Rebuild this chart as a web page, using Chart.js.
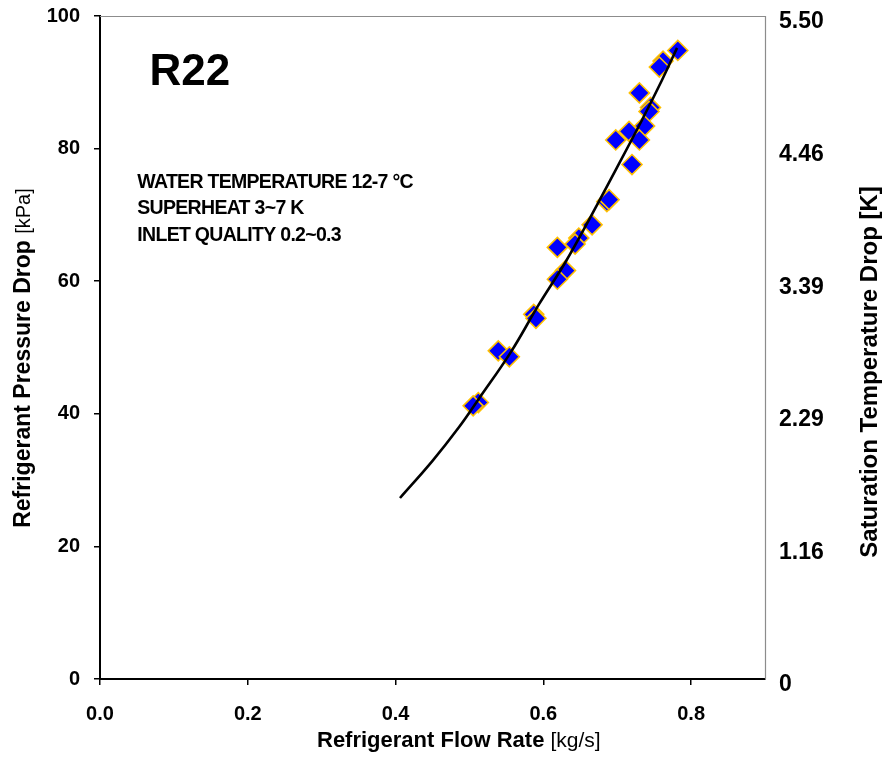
<!DOCTYPE html>
<html><head><meta charset="utf-8">
<script src="https://cdn.jsdelivr.net/npm/chart.js@4/dist/chart.umd.min.js"></script>
<style>html,body{margin:0;padding:0;background:#fff}#wrap{width:885px;height:758px}</style>
</head><body><div id="wrap"><canvas id="c" width="885" height="758"></canvas></div>
<script>
// Measured data (flow rate kg/s, pressure drop kPa)
const flowRate     = [0.782,0.762,0.757,0.730,0.745,0.743,0.737,0.716,0.698,0.730,0.720,0.686,0.689,0.666,0.648,0.643,0.619,0.630,0.619,0.587,0.590,0.539,0.554,0.512,0.505];
const pressureDrop = [94.8, 93.2, 92.3, 88.4, 86.2, 85.6, 83.4, 82.6, 81.3, 81.3, 77.6, 72.0, 72.3, 68.5, 66.5, 65.6, 65.1, 61.6, 60.3, 55.0, 54.4, 49.5, 48.6, 41.7, 41.2];
// Fitted curve
const fitFlow = [0.406,0.450,0.486,0.513,0.556,0.594,0.630,0.661,0.698,0.733,0.760,0.781];
const fitDrop = [27.3, 32.9, 38.0, 42.3, 49.3, 56.5, 62.9, 69.1, 76.8, 84.2, 90.2, 95.2];
// Ticks
const xTicks = [0,0.2,0.4,0.6,0.8];
const yTicks = [0,20,40,60,80,100];
const satLabels = ['0','1.16','2.29','3.39','4.46','5.50'];
// Texts
const xTitle = [['Refrigerant Flow Rate ','bold 22px "Liberation Sans", Arial'],['[kg/s]','21px "Liberation Sans", Arial']];
const yTitle = [['Refrigerant Pressure Drop ','bold 23px "Liberation Sans", Arial'],['[kPa]','20px "Liberation Sans", Arial']];
const y2Title = [['Saturation Temperature Drop [K]','bold 24px "Liberation Sans", Arial']];
const refrigerant = 'R22';
const notes = ['WATER TEMPERATURE 12-7 \u00B0C','SUPERHEAT 3~7 K','INLET QUALITY 0.2~0.3'];

const F = '"Liberation Sans", Arial, sans-serif';

function drawMixed(ctx, parts, x, y, rot, align){
  ctx.save();
  ctx.translate(x, y);
  ctx.rotate(rot);
  let total = 0;
  parts.forEach(p=>{ctx.font=p[1]; total += ctx.measureText(p[0]).width;});
  let cx = align==='left' ? 0 : -total/2;
  ctx.textBaseline='middle'; ctx.textAlign='left'; ctx.fillStyle='#000';
  parts.forEach(p=>{ctx.font=p[1]; ctx.fillText(p[0], cx, 0); cx += ctx.measureText(p[0]).width;});
  ctx.restore();
}

function noPad(s){ s.paddingTop=0; s.paddingBottom=0; s.paddingLeft=0; s.paddingRight=0; }

const decor = {
  id:'decor',
  beforeDatasetsDraw(chart){
    const {ctx, chartArea:a} = chart;
    ctx.save();
    ctx.strokeStyle='#8c8c8c'; ctx.lineWidth=1.2;
    ctx.beginPath();
    ctx.moveTo(a.left, a.top+0.5); ctx.lineTo(a.right+0.5, a.top+0.5); ctx.lineTo(a.right+0.5, a.bottom);
    ctx.stroke();
    ctx.restore();
  },
  afterDraw(chart){
    const {ctx, scales} = chart;
    const sx = scales.x, sy = scales.y;
    drawMixed(ctx, xTitle, 317, 741, 0, 'left');
    drawMixed(ctx, yTitle, 24, 358, -Math.PI/2);
    drawMixed(ctx, y2Title, 870, 372, -Math.PI/2);
    ctx.save();
    ctx.fillStyle='#000'; ctx.textAlign='left'; ctx.textBaseline='middle';
    ctx.font = 'bold 44px '+F;
    ctx.fillText(refrigerant, sx.getPixelForValue(0.067), sy.getPixelForValue(91.4));
    ctx.font = 'bold 19.5px '+F;
    try { ctx.letterSpacing = '-0.7px'; } catch(e) {}
    const ys=[74.8,70.9,66.9];
    notes.forEach((t,i)=>ctx.fillText(t, sx.getPixelForValue(0.0505), sy.getPixelForValue(ys[i])));
    ctx.restore();
  }
};

new Chart(document.getElementById('c'), {
  type:'scatter',
  data:{
    datasets:[
      {
        label:'Fit',
        data: fitFlow.map((x,i)=>({x, y:fitDrop[i]})),
        showLine:true, pointRadius:0, borderColor:'#000', borderWidth:2.6,
        tension:0.4, fill:false, order:0
      },
      {
        label:'R22',
        data: flowRate.map((x,i)=>({x, y:pressureDrop[i]})),
        pointStyle:'rectRot', pointRadius:10, pointHoverRadius:10,
        backgroundColor:'#0000FF', borderColor:'#FFC000', pointBorderWidth:1.6, borderWidth:1.6,
        order:1
      }
    ]
  },
  options:{
    responsive:false, animation:false, devicePixelRatio:1,
    layout:{padding:{top:16,left:0,right:0,bottom:0}},
    plugins:{legend:{display:false}, tooltip:{enabled:false}},
    scales:{
      x:{
        type:'linear', min:0, max:0.9,
        afterBuildTicks(s){ s.ticks = xTicks.map(v=>({value:v})); },
        afterFit(s){ s.height = 79; noPad(s); },
        grid:{drawOnChartArea:false, drawTicks:true, tickLength:6, tickColor:'#000', lineWidth:1.5},
        border:{display:true, color:'#000', width:2},
        ticks:{color:'#000', font:{family:F, size:20, weight:'bold'}, padding:17,
               callback:(v)=>Number(v).toFixed(1), maxRotation:0}
      },
      y:{
        type:'linear', position:'left', min:0, max:100,
        afterBuildTicks(s){ s.ticks = yTicks.map(v=>({value:v})); },
        afterFit(s){ s.width = 100; noPad(s); },
        grid:{drawOnChartArea:false, drawTicks:true, tickLength:6, tickColor:'#000', lineWidth:1.5},
        border:{display:true, color:'#000', width:2},
        ticks:{color:'#000', font:{family:F, size:20, weight:'bold'}, padding:14}
      },
      y2:{
        type:'linear', position:'right', min:0, max:100,
        afterBuildTicks(s){ s.ticks = yTicks.map(v=>({value:v})); },
        afterFit(s){ s.width = 120; noPad(s); },
        grid:{display:false, drawOnChartArea:false, drawTicks:false},
        border:{display:false},
        ticks:{color:'#000', font:{family:F, size:23, weight:'bold'}, padding:14, labelOffset:6,
               callback:(v)=>satLabels[yTicks.indexOf(v)]}
      }
    }
  },
  plugins:[decor]
});
</script></body></html>
